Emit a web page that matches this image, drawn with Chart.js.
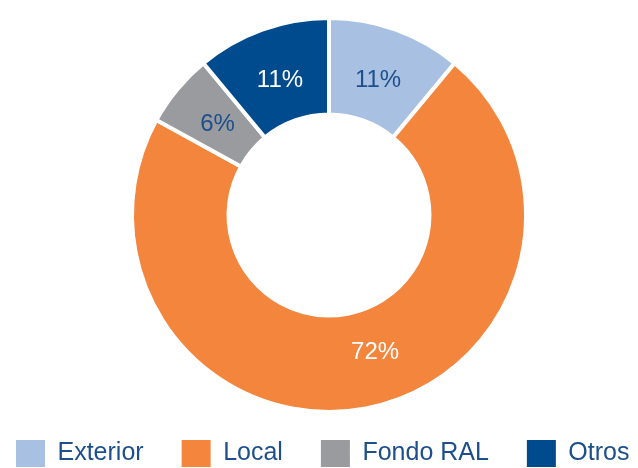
<!DOCTYPE html>
<html>
<head>
<meta charset="utf-8">
<script src="https://cdn.jsdelivr.net/npm/chart.js@4.4.1/dist/chart.umd.min.js"></script>
<style>
  html, body { margin: 0; padding: 0; background: #fff; }
  #wrap { width: 638px; height: 468px; }
</style>
</head>
<body>
<div id="wrap"><canvas id="grafico"></canvas></div>
<script>
const categorias = ["Exterior", "Local", "Fondo RAL", "Otros"];
const porcentajes = [11, 72, 6, 11];
const colores = ["#a8c0e1", "#f3853d", "#999b9e", "#004a8e"];
const coloresEtiqueta = ["#1d4f8d", "#ffffff", "#1d4f8d", "#ffffff"];

const azulTexto = "#1d4f8d";
const fuente = "'Liberation Sans', Arial, sans-serif";

// escribe el porcentaje de cada sector, algo hacia dentro del centro del anillo
const etiquetas = {
  id: "etiquetas",
  afterDatasetsDraw(chart, args, opts) {
    const ctx = chart.ctx;
    const meta = chart.getDatasetMeta(0);
    ctx.save();
    ctx.font = "24px " + fuente;
    ctx.textAlign = "center";
    ctx.textBaseline = "middle";
    meta.data.forEach((arc, i) => {
      const a = arc.getProps(["x", "y", "startAngle", "endAngle", "innerRadius", "outerRadius"]);
      const ang = (a.startAngle + a.endAngle) / 2;
      const r = (a.innerRadius + a.outerRadius) / 2 - opts.haciaDentro;
      const d = (opts.ajustes && opts.ajustes[i]) || [0, 0];
      ctx.fillStyle = coloresEtiqueta[i];
      ctx.fillText(porcentajes[i] + "%", a.x + Math.cos(ang) * r + d[0], a.y + Math.sin(ang) * r + d[1] + 2);
    });
    ctx.restore();
  }
};

// alto fijo para la leyenda y todas las entradas en una sola fila
const altoLeyenda = {
  id: "altoLeyenda",
  beforeLayout(chart, args, opts) {
    const leg = chart.legend;
    if (!leg || leg._altoFijo) return;
    const fitOriginal = leg.fit.bind(leg);
    leg.fit = function () {
      const mw = this.maxWidth;
      this.maxWidth = 5000;
      fitOriginal();
      this.maxWidth = mw;
      this.width = mw;
      this.height = opts.alto;
    };
    leg._altoFijo = true;
  }
};

// el anillo va algo a la derecha del centro de la leyenda
const centroAnillo = {
  id: "centroAnillo",
  afterLayout(chart, args, opts) {
    const ca = chart.chartArea;
    const dx = opts.x - (ca.left + ca.right) / 2;
    ca.left += dx;
    ca.right += dx;
  }
};

new Chart(document.getElementById("grafico"), {
  type: "doughnut",
  data: {
    labels: categorias,
    datasets: [{
      data: porcentajes,
      backgroundColor: colores,
      borderColor: "#ffffff",
      borderWidth: 4,
    }],
  },
  options: {
    responsive: true,
    maintainAspectRatio: false,
    animation: false,
    radius: 197,
    cutout: "51%",
    layout: { padding: { left: -22, top: 28, right: -42, bottom: 0 } },
    plugins: {
      tooltip: { enabled: false },
      etiquetas: { haciaDentro: 4, ajustes: [[0, 0], [19, -7], [0, 0], [0, 0]] },
      altoLeyenda: { alto: 66 },
      centroAnillo: { x: 329 },
      legend: {
        position: "bottom",
        align: "start",
        labels: {
          boxWidth: 29,
          boxHeight: 27,
          padding: 38,
          color: azulTexto,
          font: { family: fuente, size: 25 },
          generateLabels(chart) {
            return categorias.map((c, i) => ({
              text: c,
              fillStyle: colores[i],
              strokeStyle: colores[i],
              lineWidth: 0,
              fontColor: azulTexto,
              index: i,
            }));
          },
        },
      },
    },
  },
  plugins: [etiquetas, altoLeyenda, centroAnillo],
});
</script>
</body>
</html>
